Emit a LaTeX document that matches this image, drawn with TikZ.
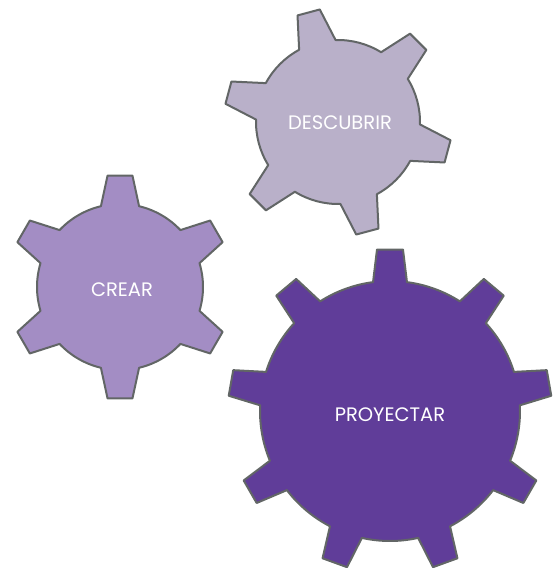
\documentclass[tikz,border=0pt]{standalone}
\usepackage{fontspec}
\setmainfont{Poppins}
\definecolor{gearedge}{RGB}{98,102,102}
\definecolor{cdesc}{RGB}{185,176,201}
\definecolor{ccrear}{RGB}{163,141,196}
\definecolor{cproy}{RGB}{96,61,153}
\newcommand{\drawgear}[9]{%
  \pgfmathsetmacro{\gstep}{360/#3}%
  \pgfmathtruncatemacro{\glast}{#3-1}%
  \pgfmathsetmacro{\gdelta}{\gstep-2*#7}%
  \draw[gearline, fill=#9, shift={(#1,#2)}] ({#4-#7}:#5)
    \foreach \k [evaluate=\k as \t using #4+\k*\gstep] in {0,...,\glast} {
      -- ({\t-#7}:#5) -- ({\t-#8}:#6) -- ({\t+#8}:#6) -- ({\t+#7}:#5)
      arc[start angle={\t+#7}, delta angle=\gdelta, radius=#5]
    } -- cycle;%
}
\begin{document}
\begin{tikzpicture}[x=1pt,y=1pt,
  gearline/.style={draw=gearedge, line width=2pt, line join=round},
  lbl/.style={text=white, font=\fontsize{19.5}{22}\selectfont, inner sep=0pt}]
\useasboundingbox (0,0) rectangle (554,568);
% DESCUBRIR
\drawgear{338}{446}{6}{45}{82}{114}{13.3}{5.8}{cdesc}
% CREAR
\drawgear{120}{281}{6}{30}{83}{112}{13.3}{6.4}{ccrear}
% PROYECTAR
\drawgear{390}{157}{9}{10}{130}{162}{7.5}{4.6}{cproy}
\node[lbl] (descubrir) at (340,445) {DESCUBRIR};
\node[lbl] (crear) at (122,278) {CREAR};
\node[lbl] (proyectar) at (390,153) {PROYECTAR};
\end{tikzpicture}
\end{document}
